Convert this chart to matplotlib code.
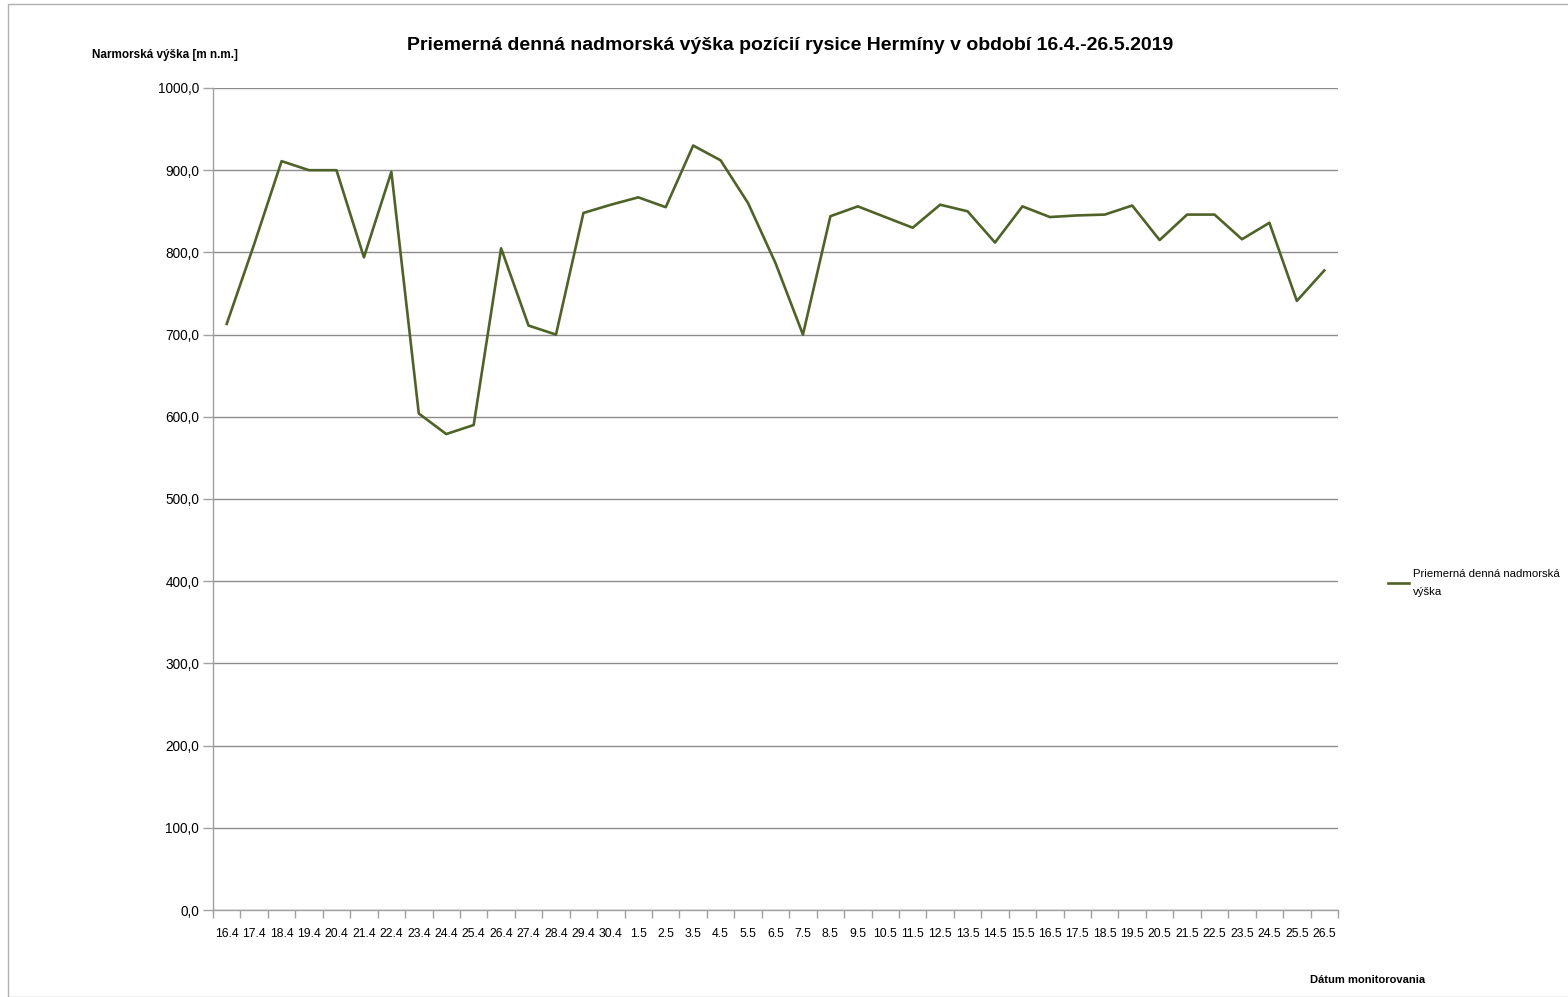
import matplotlib.pyplot as plt
from matplotlib.patches import Rectangle

plt.rcParams['font.family'] = ['Liberation Sans', 'DejaVu Sans']

# datumy monitorovania
dates = ['16.4', '17.4', '18.4', '19.4', '20.4', '21.4', '22.4', '23.4', '24.4', '25.4',
         '26.4', '27.4', '28.4', '29.4', '30.4', '1.5', '2.5', '3.5', '4.5', '5.5',
         '6.5', '7.5', '8.5', '9.5', '10.5', '11.5', '12.5', '13.5', '14.5', '15.5',
         '16.5', '17.5', '18.5', '19.5', '20.5', '21.5', '22.5', '23.5', '24.5', '25.5',
         '26.5']
# priemerna denna nadmorska vyska [m n.m.]
altitude = [713, 810, 911, 900, 900, 794, 898, 604, 579, 590,
            805, 711, 700, 848, 858, 867, 855, 930, 912, 860,
            787, 700, 844, 856, 843, 830, 858, 850, 812, 856,
            843, 845, 846, 857, 815, 846, 846, 816, 836, 741,
            778]
yticks = [0, 100, 200, 300, 400, 500, 600, 700, 800, 900, 1000]

W, H = 1568, 997
fig = plt.figure(figsize=(W / 100, H / 100), dpi=100)
ax = fig.add_axes([213 / W, 1 - 910 / H, (1338 - 213) / W, (910 - 88) / H])

x = list(range(len(dates)))
line, = ax.plot(x, altitude, color='#4F6228', linewidth=1.9,
                label='Priemerná denná nadmorská\nvýška')

ax.set_xlim(-0.5, len(dates) - 0.5)
ax.set_ylim(0, 1000)
ax.set_yticks(yticks)
ax.set_yticklabels(['{},0'.format(v) for v in yticks], fontsize=9.8)
ax.set_xticks(x)
ax.set_xticklabels(dates, fontsize=8.8)
ax.set_xticks([i - 0.5 for i in range(len(dates) + 1)], minor=True)
ax.tick_params(axis='x', which='major', length=0, pad=13)
ax.tick_params(axis='x', which='minor', length=6, color='#a0a0a0', width=1)
ax.tick_params(axis='y', length=7, color='#a0a0a0', width=1, pad=3)
ax.grid(axis='y', color='#8c8c8c', linewidth=1)
ax.set_axisbelow(True)
for s in ['top', 'right']:
    ax.spines[s].set_visible(False)
for s in ['left', 'bottom']:
    ax.spines[s].set_color('#a0a0a0')
    ax.spines[s].set_linewidth(1)

fig.text(790 / W, 1 - 45 / H, 'Priemerná denná nadmorská výška pozícií rysice Hermíny v období 16.4.-26.5.2019',
         ha='center', va='center', fontsize=14, fontweight='bold')
fig.text(92 / W, 1 - 55 / H, 'Narmorská výška [m n.m.]', ha='left', va='center',
         fontsize=8.5, fontweight='bold')
fig.text(1368 / W, 1 - 980 / H, 'Dátum monitorovania', ha='center', va='center',
         fontsize=8, fontweight='bold')

leg = fig.legend(handles=[line], loc='center left', bbox_to_anchor=(1378 / W, 1 - 583 / H),
                 frameon=False, fontsize=8.2, handlelength=1.8, handletextpad=0.4)
for t in leg.get_texts():
    t.set_linespacing(2.0)

fig.patches.append(Rectangle((8 / W, 0), 1.2, 1 - 4 / H, transform=fig.transFigure,
                             fill=False, edgecolor='#b0b0b0', linewidth=1))

fig.savefig('out.png', dpi=100)
